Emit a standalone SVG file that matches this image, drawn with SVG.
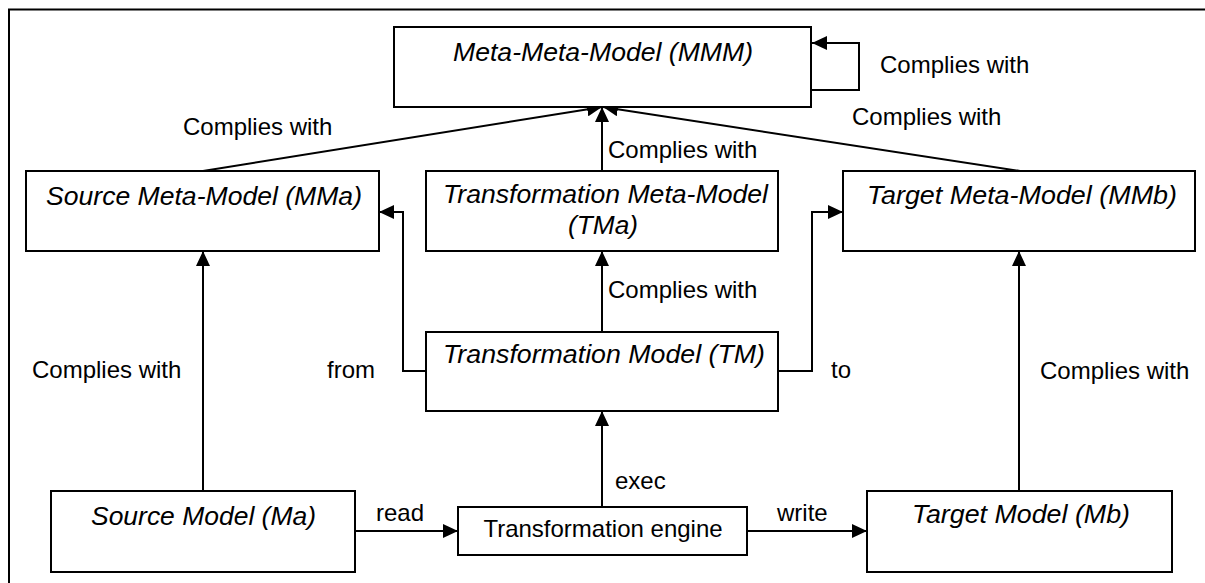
<svg xmlns="http://www.w3.org/2000/svg" width="1205" height="583" viewBox="0 0 1205 583">
<style>
.box{fill:#fff;stroke:#000;stroke-width:2}
.it{font-family:"Liberation Sans",Arial,sans-serif;font-style:italic;font-size:25px;fill:#000;text-anchor:middle}
.lb{font-family:"Liberation Sans",Arial,sans-serif;font-size:24px;fill:#000}
.cn{fill:none;stroke:#000;stroke-width:2}
</style>
<defs>
<marker id="ah" markerUnits="userSpaceOnUse" markerWidth="16" markerHeight="14" refX="15" refY="7" orient="auto" viewBox="0 0 16 14">
<path d="M0,0 L15,7 L0,14 z" fill="#000"/>
</marker>
</defs>
<rect x="0" y="0" width="1205" height="583" fill="#fff"/>
<rect x="9" y="9.5" width="1200" height="580" fill="none" stroke="#000" stroke-width="2"/>
<g id="connectors">
<path class="cn" d="M811,90 H859 V43 H812" marker-end="url(#ah)"/>
<path class="cn" d="M203,171 L602,107" marker-end="url(#ah)"/>
<path class="cn" d="M1020,171 L603,107" marker-end="url(#ah)"/>
<path class="cn" d="M602,171 V107" marker-end="url(#ah)"/>
<path class="cn" d="M602,332 V251" marker-end="url(#ah)"/>
<path class="cn" d="M426,371 H403 V212 H379" marker-end="url(#ah)"/>
<path class="cn" d="M778,371 H812 V212 H843" marker-end="url(#ah)"/>
<path class="cn" d="M203,491 V251" marker-end="url(#ah)"/>
<path class="cn" d="M1019,491 V251" marker-end="url(#ah)"/>
<path class="cn" d="M602,507 V411" marker-end="url(#ah)"/>
<path class="cn" d="M355,531 H458" marker-end="url(#ah)"/>
<path class="cn" d="M747,531 H867" marker-end="url(#ah)"/>
<text class="lb" x="880" y="72.5">Complies with</text>
<text class="lb" x="183" y="135">Complies with</text>
<text class="lb" x="852" y="125">Complies with</text>
<text class="lb" x="608" y="157.5">Complies with</text>
<text class="lb" x="608" y="297.5">Complies with</text>
<text class="lb" x="32" y="377.5">Complies with</text>
<text class="lb" x="1040" y="379">Complies with</text>
<text class="lb" x="327" y="378">from</text>
<text class="lb" x="831" y="378">to</text>
<text class="lb" x="615" y="489">exec</text>
<text class="lb" x="376" y="521">read</text>
<text class="lb" x="777" y="521">write</text>
</g>
<g id="mmm">
<rect class="box" x="394" y="27" width="417" height="80"/>
<text class="it" x="603" y="61" textLength="300" lengthAdjust="spacingAndGlyphs">Meta-Meta-Model (MMM)</text>
</g>
<g id="mma">
<rect class="box" x="26" y="171" width="353" height="80"/>
<text class="it" x="204" y="205" textLength="316" lengthAdjust="spacingAndGlyphs">Source Meta-Model (MMa)</text>
</g>
<g id="tma">
<rect class="box" x="426" y="171" width="352" height="80"/>
<text class="it" x="605.5" y="202.5" textLength="325" lengthAdjust="spacingAndGlyphs">Transformation Meta-Model</text>
<text class="it" x="603" y="234" textLength="70" lengthAdjust="spacingAndGlyphs">(TMa)</text>
</g>
<g id="mmb">
<rect class="box" x="843" y="171" width="352" height="80"/>
<text class="it" x="1022" y="204" textLength="310" lengthAdjust="spacingAndGlyphs">Target Meta-Model (MMb)</text>
</g>
<g id="tm">
<rect class="box" x="426" y="332" width="352" height="79"/>
<text class="it" x="604" y="362.5" textLength="322" lengthAdjust="spacingAndGlyphs">Transformation Model (TM)</text>
</g>
<g id="ma">
<rect class="box" x="51" y="491" width="304" height="81"/>
<text class="it" x="203.5" y="525" textLength="225" lengthAdjust="spacingAndGlyphs">Source Model (Ma)</text>
</g>
<g id="engine">
<rect class="box" x="458" y="507" width="289" height="48"/>
<text class="lb" x="603" y="537" text-anchor="middle">Transformation engine</text>
</g>
<g id="mb">
<rect class="box" x="867" y="491" width="305" height="81"/>
<text class="it" x="1021" y="523" textLength="218" lengthAdjust="spacingAndGlyphs">Target Model (Mb)</text>
</g>
</svg>
